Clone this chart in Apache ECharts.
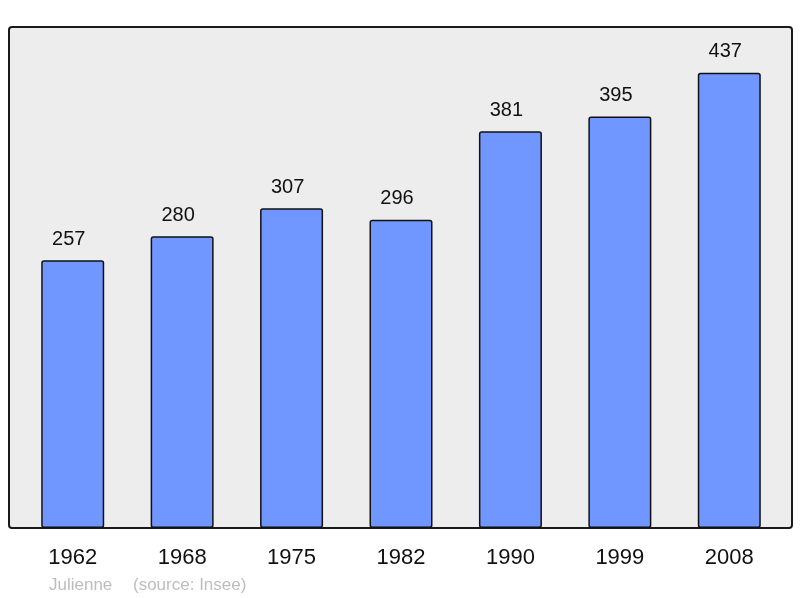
<!DOCTYPE html>
<html>
<head>
<meta charset="utf-8">
<script src="https://cdn.jsdelivr.net/npm/echarts@6/dist/echarts.min.js"></script>
<style>
  html, body { margin: 0; padding: 0; background: #fff; }
  #chart { width: 800px; height: 598px; }
</style>
</head>
<body>
<div id="chart"></div>
<script>
  // population par recensement
  var years = ['1962', '1968', '1975', '1982', '1990', '1999', '2008'];
  var population = [257, 280, 307, 296, 381, 395, 437];

  var chart = echarts.init(document.getElementById('chart'));

  var option = {
    animation: false,
    textStyle: { fontFamily: 'Liberation Sans, Arial, sans-serif' },
    graphic: [
      {
        type: 'rect',
        z: -10,
        shape: { x: 9, y: 27, width: 783, height: 501, r: 3 },
        style: { fill: '#ededed', stroke: '#1a1a1a', lineWidth: 2 }
      },
      {
        type: 'text',
        left: 49, top: 577,
        style: { text: 'Julienne', fill: '#bdbdbd', font: '17px Liberation Sans, Arial, sans-serif' }
      },
      {
        type: 'text',
        left: 133, top: 577,
        style: { text: '(source: Insee)', fill: '#bdbdbd', font: '17px Liberation Sans, Arial, sans-serif' }
      }
    ],
    grid: { left: 18, right: 16, top: 28, bottom: 70 },
    xAxis: {
      type: 'category',
      data: years,
      axisLine: { show: false },
      axisTick: { show: false },
      axisLabel: { fontSize: 22, color: '#111', margin: 19 }
    },
    yAxis: {
      type: 'value',
      min: 0,
      max: 480,
      show: false,
      splitLine: { show: false }
    },
    series: [{
      type: 'bar',
      data: population,
      barWidth: 63,
      itemStyle: {
        color: '#7096ff',
        borderColor: '#111',
        borderWidth: 1.5,
        borderRadius: 2
      },
      label: {
        show: true,
        position: 'top',
        distance: 11,
        offset: [-4, 0],
        fontSize: 20,
        color: '#111'
      }
    }]
  };

  chart.setOption(option);
</script>
</body>
</html>
